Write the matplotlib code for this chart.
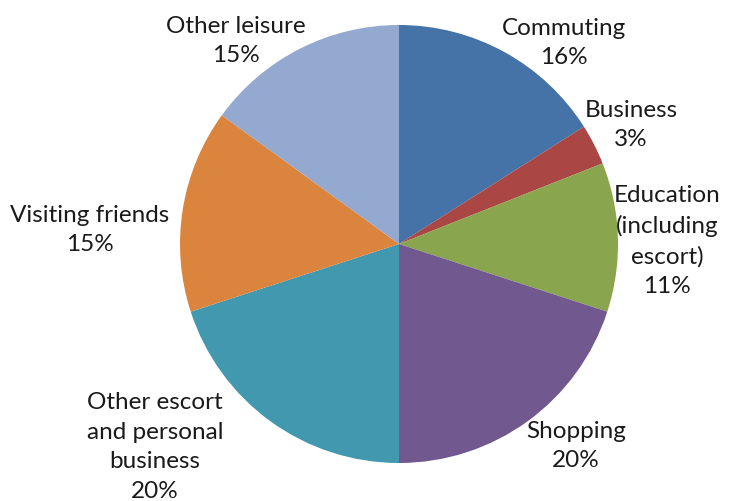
import matplotlib.pyplot as plt

# Share of trips by purpose
purposes = ["Commuting", "Business", "Education\n(including\nescort)", "Shopping",
            "Other escort\nand personal\nbusiness", "Visiting friends", "Other leisure"]
shares = [16, 3, 11, 20, 20, 15, 15]
colors = ["#4572A7", "#AA4643", "#89A54E", "#71588F", "#4198AF", "#DB843D", "#93A9CF"]

# label centres in pixel space (x, y from top)
label_pos = [(564, 43), (631, 125), (667, 241), (576, 446),
             (155, 447), (90, 230), (236, 41)]

W, H = 739, 502
fig = plt.figure(figsize=(W / 100, H / 100), dpi=100)
ax = fig.add_axes([0, 0, 1, 1])
ax.set_xlim(0, W)
ax.set_ylim(0, H)
ax.set_aspect("equal")

ax.pie(shares, colors=colors, startangle=90, counterclock=False,
       center=(399, H - 245), radius=219, frame=True,
       wedgeprops=dict(linewidth=0))
ax.axis("off")

for name, val, (x, y) in zip(purposes, shares, label_pos):
    ax.text(x, H - y, f"{name}\n{val}%", ha="center", va="center",
            fontsize=17.5, family="Lato", color="#1a1a1a", linespacing=1.5)

fig.savefig("out.png", dpi=100)
